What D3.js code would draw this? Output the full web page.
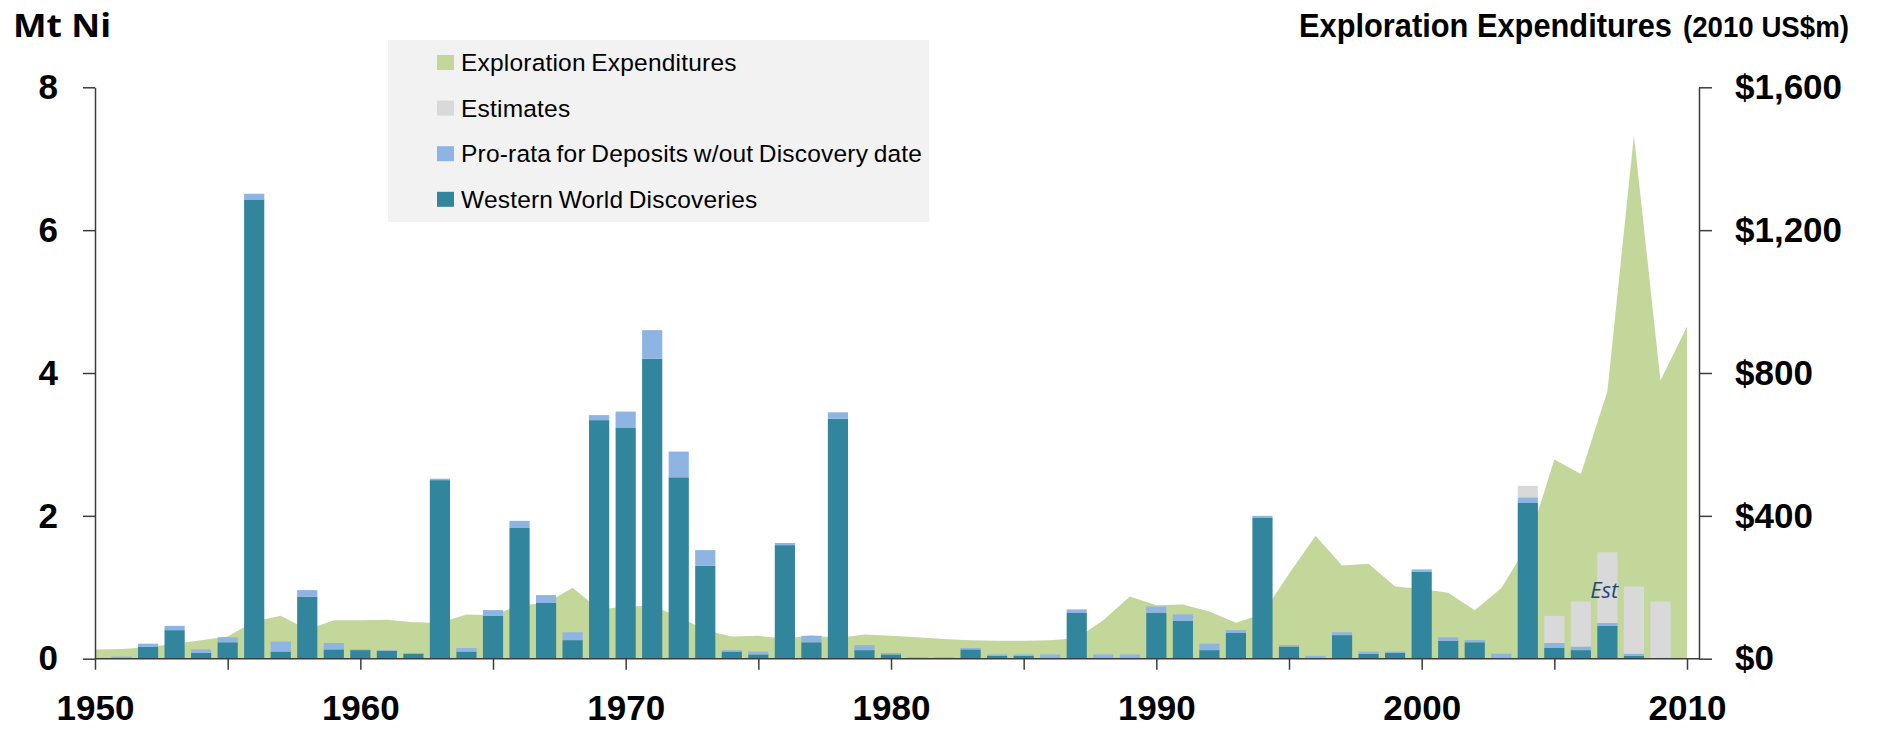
<!DOCTYPE html>
<html>
<head>
<meta charset="utf-8">
<script src="https://cdn.jsdelivr.net/npm/d3@7"></script>
<style>
  body { margin: 0; background: #fff; }
  text { font-family: "Liberation Sans", Arial, sans-serif; }
</style>
</head>
<body>
<div id="chart"></div>
<script>
// Data
const discYears = d3.range(1951, 2010)
const western = [
  0.01, 0.17, 0.40, 0.08, 0.23, 6.43, 0.10, 0.87, 0.13, 0.12,
  0.11, 0.07, 2.50, 0.10, 0.60, 1.83, 0.78, 0.26, 3.34, 3.23,
  4.20, 2.54, 1.30, 0.10, 0.06, 1.59, 0.23, 3.36, 0.12, 0.06,
  0, 0, 0.13, 0.04, 0.04, 0, 0.64, 0, 0, 0.64,
  0.53, 0.12, 0.36, 1.97, 0.17, 0, 0.33, 0.07, 0.08, 1.22,
  0.25, 0.23, 0, 2.18, 0.15, 0.12, 0.46, 0.04, 0
]
const proRata = [
  0.02, 0.04, 0.06, 0.05, 0.07, 0.08, 0.14, 0.09, 0.09, 0.01,
  0.01, 0.01, 0.02, 0.05, 0.08, 0.10, 0.11, 0.11, 0.07, 0.23,
  0.40, 0.36, 0.22, 0.02, 0.04, 0.03, 0.09, 0.09, 0.07, 0.02,
  0.02, 0.02, 0.02, 0.02, 0.02, 0.06, 0.05, 0.06, 0.06, 0.09,
  0.09, 0.09, 0.04, 0.03, 0.02, 0.04, 0.04, 0.03, 0.02, 0.03,
  0.05, 0.03, 0.07, 0.08, 0.07, 0.05, 0.04, 0.03, 0
]
const estimates = [
  0, 0, 0, 0, 0, 0, 0, 0, 0, 0,
  0, 0, 0, 0, 0, 0, 0, 0, 0, 0,
  0, 0, 0, 0, 0, 0, 0, 0, 0, 0,
  0, 0, 0, 0, 0, 0, 0, 0, 0, 0,
  0, 0, 0, 0, 0, 0, 0, 0, 0, 0,
  0, 0, 0, 0.16, 0.38, 0.63, 0.99, 0.94, 0.80
]

const expYears = d3.range(1950, 2011)
const expenditure = [
  26, 27, 32, 42, 52, 62, 104, 120, 82, 108,
  108, 109, 102, 101, 124, 122, 150, 155, 199, 138,
  146, 148, 118, 80, 62, 64, 56, 66, 58, 68,
  64, 60, 55, 52, 50, 50, 52, 57, 108, 174,
  150, 152, 132, 101, 125, 238, 344, 261, 266, 202,
  195, 185, 136, 197, 320, 558, 517, 749, 1466, 779,
  930
]

const leftTicks = [0, 2, 4, 6, 8]
const rightTicks = [0, 400, 800, 1200, 1600]
const xTicks = d3.range(1950, 2011, 5)

const legendLabels = [
  'Exploration Expenditures',
  'Estimates',
  'Pro-rata for Deposits w/out Discovery date',
  'Western World Discoveries',
]
const legendColors = ['#c4d79b', '#d9d9d9', '#8db4e2', '#31859c']
const seriesKeys = ['western', 'proRata', 'estimates']
const seriesColors = { western: '#31859c', proRata: '#8db4e2', estimates: '#d9d9d9' }

// Dimensions
const dimensions = {
  width: 1877,
  height: 729,
  left: 95,
  right: 1699,
  plotEnd: 1687,
  top: 87.3,
  bottom: 658.7,
}

const svg = d3
  .select('#chart')
  .append('svg')
  .attr('width', dimensions.width)
  .attr('height', dimensions.height)

// Scales
const xScale = d3
  .scaleLinear()
  .domain([1950, 2010])
  .range([dimensions.left, dimensions.plotEnd])

const yLeft = d3
  .scaleLinear()
  .domain([0, 8])
  .range([dimensions.bottom, dimensions.top])

const yRight = d3
  .scaleLinear()
  .domain([0, 1600])
  .range([dimensions.bottom, dimensions.top])

// Area (expenditures)
const areaGenerator = d3
  .area()
  .x((d, i) => xScale(expYears[i]))
  .y0(yRight(0))
  .y1((d) => yRight(d))

svg
  .append('path')
  .datum(expenditure)
  .attr('d', areaGenerator)
  .attr('fill', '#c4d79b')

// Stacked bars
const table = discYears.map((year, i) => ({
  year,
  western: western[i],
  proRata: proRata[i],
  estimates: estimates[i],
}))
const stacked = d3.stack().keys(seriesKeys)(table)
const barWidth = (xScale(1951) - xScale(1950)) * 0.76

svg
  .append('g')
  .selectAll('g')
  .data(stacked)
  .join('g')
  .attr('fill', (s) => seriesColors[s.key])
  .selectAll('rect')
  .data((s) => s.filter((d) => d[1] - d[0] > 0))
  .join('rect')
  .attr('x', (d) => xScale(d.data.year) - barWidth / 2)
  .attr('width', barWidth)
  .attr('y', (d) => yLeft(d[1]))
  .attr('height', (d) => yLeft(d[0]) - yLeft(d[1]))

// "Est" note
svg
  .append('text')
  .attr('x', xScale(2006.35))
  .attr('y', yLeft(0.85))
  .attr('fill', '#1f497d')
  .style('font-family', '"Open Sans", sans-serif')
  .style('font-style', 'italic')
  .style('font-size', '22px')
  .text('Est')

// Axes
const axisColor = '#3c3c3c'
const styleAxis = (g) => {
  g.selectAll('.domain').attr('stroke', axisColor).attr('stroke-width', 1.5)
  g.selectAll('.tick line').attr('stroke', axisColor).attr('stroke-width', 1.5)
  g.selectAll('.tick text')
    .attr('fill', '#000')
    .style('font-family', '"Liberation Sans", Arial, sans-serif')
    .style('font-weight', 'bold')
    .style('font-size', '35px')
}

const xAxis = d3
  .axisBottom(xScale)
  .tickValues(xTicks)
  .tickSize(11)
  .tickSizeOuter(0)
  .tickPadding(25)
  .tickFormat((d) => (d % 10 === 0 ? d : ''))
svg
  .append('g')
  .attr('transform', `translate(0, ${dimensions.bottom})`)
  .call(xAxis)
  .call(styleAxis)
  .call((g) =>
    g.select('.domain').attr('d', `M${dimensions.left},0H${dimensions.right}`)
  )

const yAxisLeft = d3
  .axisLeft(yLeft)
  .tickValues(leftTicks)
  .tickSize(12)
  .tickSizeOuter(0)
  .tickPadding(25)
svg
  .append('g')
  .attr('transform', `translate(${dimensions.left}, 0)`)
  .call(yAxisLeft)
  .call(styleAxis)

const yAxisRight = d3
  .axisRight(yRight)
  .tickValues(rightTicks)
  .tickSize(13)
  .tickSizeOuter(0)
  .tickPadding(23)
  .tickFormat((d) => '$' + d3.format(',')(d))
svg
  .append('g')
  .attr('transform', `translate(${dimensions.right}, 0)`)
  .call(yAxisRight)
  .call(styleAxis)

// Titles
svg
  .append('text')
  .attr('x', 13)
  .attr('y', 37)
  .attr('textLength', 98)
  .attr('lengthAdjust', 'spacingAndGlyphs')
  .style('font-family', '"Open Sans", sans-serif')
  .style('font-weight', 'bold')
  .style('font-size', '33px')
  .text('Mt Ni')

svg
  .append('text')
  .attr('x', 1299)
  .attr('y', 37)
  .attr('textLength', 373)
  .attr('lengthAdjust', 'spacingAndGlyphs')
  .style('font-weight', 'bold')
  .style('font-size', '33px')
  .text('Exploration Expenditures')

svg
  .append('text')
  .attr('x', 1683)
  .attr('y', 37)
  .attr('textLength', 166)
  .attr('lengthAdjust', 'spacingAndGlyphs')
  .style('font-family', '"Liberation Sans Narrow", "Liberation Sans", Arial, sans-serif')
  .style('font-weight', 'bold')
  .style('font-size', '29px')
  .text('(2010 US$m)')

// Legend
const legend = svg.append('g')
const legendBox = legend
  .append('rect')
  .attr('x', 388)
  .attr('y', 40)
  .attr('height', 182)
  .attr('fill', '#f2f2f2')

const rows = legend
  .selectAll('g')
  .data(legendLabels)
  .join('g')
  .attr('transform', (d, i) => `translate(437, ${62 + i * 45.6})`)

rows
  .append('rect')
  .attr('y', -7)
  .attr('width', 17)
  .attr('height', 15)
  .attr('fill', (d, i) => legendColors[i])

rows
  .append('text')
  .attr('x', 24)
  .attr('y', 9)
  .style('font-size', '24.5px')
  .style('letter-spacing', '0.2px')
  .style('word-spacing', '-1.5px')
  .text((d) => d)

const maxText = d3.max(rows.selectAll('text').nodes(), (n) => n.getComputedTextLength())
legendBox.attr('width', 437 + 24 + maxText + 7 - 388)
</script>
</body>
</html>
